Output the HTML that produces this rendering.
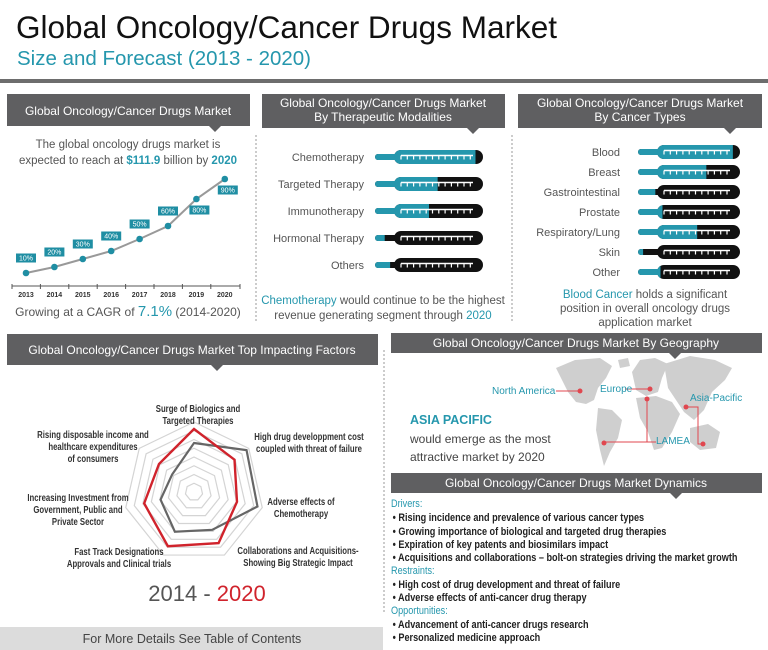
<!DOCTYPE html>
<html><head><meta charset="utf-8">
<style>
html,body{margin:0;padding:0;background:#fff;}
svg{display:block;font-family:"Liberation Sans",sans-serif;}
.hd{fill:#fff;font-size:12px;}
</style></head>
<body>
<svg id="root" width="768" height="650" viewBox="0 0 768 650" xmlns="http://www.w3.org/2000/svg">
<defs></defs>
<text x="16" y="38" font-size="31.5" fill="#111">Global Oncology/Cancer Drugs Market</text>
<text x="17" y="65" font-size="20.5" fill="#2597ad">Size and Forecast (2013 - 2020)</text>
<rect x="0" y="79" width="768" height="4" fill="#6d6d6d"/>

<g>
<rect x="7" y="94" width="243" height="32" fill="#5f5f61"/><path d="M209 126 L221 126 L215 132Z" fill="#5f5f61"/>
<text class="hd" x="128" y="115" text-anchor="middle">Global Oncology/Cancer Drugs Market</text></g>
<g>
<rect x="262" y="94" width="243" height="34" fill="#5f5f61"/><path d="M467 128 L479 128 L473 134Z" fill="#5f5f61"/>
<text class="hd" x="383" y="107" text-anchor="middle">Global Oncology/Cancer Drugs Market</text>
<text class="hd" x="383" y="121" text-anchor="middle">By Therapeutic Modalities</text></g>
<g>
<rect x="518" y="94" width="244" height="34" fill="#5f5f61"/><path d="M724 128 L736 128 L730 134Z" fill="#5f5f61"/>
<text class="hd" x="640" y="107" text-anchor="middle">Global Oncology/Cancer Drugs Market</text>
<text class="hd" x="640" y="121" text-anchor="middle">By Cancer Types</text></g>

<line x1="256" y1="135" x2="256" y2="322" stroke="#999" stroke-dasharray="2,2"/>
<line x1="512" y1="135" x2="512" y2="322" stroke="#999" stroke-dasharray="2,2"/>
<line x1="384" y1="350" x2="384" y2="612" stroke="#999" stroke-dasharray="2,2"/>

<text x="128" y="148" font-size="11.5" fill="#555" text-anchor="middle">The global oncology drugs market is</text>
<text x="128" y="164" font-size="11.5" fill="#555" text-anchor="middle">expected to reach at <tspan fill="#2597ad" font-weight="bold">$111.9</tspan> billion by <tspan fill="#2597ad" font-weight="bold">2020</tspan></text>
<g id="linechart"></g>
<text x="128" y="316" font-size="12" fill="#555" text-anchor="middle">Growing at a CAGR of <tspan fill="#2597ad" font-size="15">7.1%</tspan> (2014-2020)</text>

<g id="thermo1"></g>
<text x="383" y="304" font-size="11.5" fill="#555" text-anchor="middle"><tspan fill="#2597ad">Chemotherapy</tspan> would continue to be the highest</text>
<text x="383" y="319" font-size="11.5" fill="#555" text-anchor="middle">revenue generating segment through <tspan fill="#2597ad">2020</tspan></text>

<g id="thermo2"></g>
<text x="645" y="298" font-size="11.5" fill="#555" text-anchor="middle"><tspan fill="#2597ad">Blood Cancer</tspan> holds a significant</text>
<text x="645" y="312" font-size="11.5" fill="#555" text-anchor="middle">position in overall oncology drugs</text>
<text x="645" y="326" font-size="11.5" fill="#555" text-anchor="middle">application market</text>

<g>
<rect x="7" y="334" width="371" height="31" fill="#5f5f61"/><path d="M211 365 L223 365 L217 371Z" fill="#5f5f61"/>
<text class="hd" x="192" y="354" text-anchor="middle">Global Oncology/Cancer Drugs Market Top Impacting Factors</text></g>
<g id="radar"></g>
<text x="207" y="601" font-size="22" fill="#555" text-anchor="middle">2014 - <tspan fill="#d0232c">2020</tspan></text>
<g>
<rect x="0" y="627" width="383" height="23" fill="#dcdcdc"/>
<text x="192" y="643" font-size="12.5" fill="#444" text-anchor="middle">For More Details See Table of Contents</text></g>

<g>
<rect x="391" y="333" width="371" height="20" fill="#5f5f61"/><path d="M669 353 L681 353 L675 359Z" fill="#5f5f61"/>
<text class="hd" x="576" y="347" text-anchor="middle">Global Oncology/Cancer Drugs Market By Geography</text></g>
<g fill="#cfcfcf">
<path d="M556 368 L575 360 L600 358 L612 366 L606 378 L598 388 L594 400 L586 404 L576 402 L568 392 L562 380Z"/>
<path d="M598 408 L612 410 L622 420 L618 438 L610 452 L604 466 L600 450 L596 430Z"/>
<path d="M632 372 L640 360 L655 358 L668 364 L662 378 L658 392 L646 396 L636 390Z"/>
<path d="M636 398 L656 396 L672 402 L680 414 L672 432 L662 448 L654 450 L648 432 L640 418Z"/>
<path d="M664 364 L690 356 L715 360 L732 368 L725 380 L712 392 L704 410 L694 420 L684 412 L676 400 L668 388Z"/>
<path d="M690 428 L708 424 L720 432 L716 448 L700 450 L690 442Z"/>
<path d="M618 360 L628 358 L630 366 L620 368Z"/>
</g>
<g stroke="#e0474f" stroke-width="1" fill="none">
<path d="M556 391 L580 391"/><path d="M625 389 L650 389"/>
<path d="M647 399 L647 442 L604 442 M647 442 L656 442"/>
<path d="M686 407 L698 407 L698 444 L703 444"/>
</g>
<g fill="#e0474f">
<circle cx="580" cy="391" r="2.5"/><circle cx="650" cy="389" r="2.5"/><circle cx="647" cy="399" r="2.5"/>
<circle cx="686" cy="407" r="2.5"/><circle cx="604" cy="443" r="2.5"/><circle cx="703" cy="444" r="2.5"/>
</g>
<text x="492" y="394" font-size="10" fill="#2597ad">North America</text>
<text x="600" y="392" font-size="10" fill="#2597ad">Europe</text>
<text x="690" y="401" font-size="10" fill="#2597ad">Asia-Pacific</text>
<text x="656" y="444" font-size="10" fill="#2597ad">LAMEA</text>
<text x="410" y="424" font-size="12.5" font-weight="bold" fill="#2597ad">ASIA PACIFIC</text>
<text x="410" y="443" font-size="12" fill="#444">would emerge as the most</text>
<text x="410" y="461" font-size="12" fill="#444">attractive market by 2020</text>

<g>
<rect x="391" y="473" width="371" height="20" fill="#5f5f61"/><path d="M670 493 L682 493 L676 499Z" fill="#5f5f61"/>
<text class="hd" x="576" y="487" text-anchor="middle">Global Oncology/Cancer Drugs Market Dynamics</text></g>
<g font-size="11" fill="#222" font-weight="bold" transform="translate(391,0) scale(0.83,1) translate(-391,0)">
<text x="391" y="507" fill="#2597ad" font-weight="normal">Drivers:</text>
<text x="393" y="521">•  Rising incidence and prevalence of various cancer types</text>
<text x="393" y="535">•  Growing importance of biological and targeted drug therapies</text>
<text x="393" y="548">•  Expiration of key patents and biosimilars impact</text>
<text x="393" y="561">•  Acquisitions and collaborations – bolt-on strategies driving the market growth</text>
<text x="391" y="574" fill="#2597ad" font-weight="normal">Restraints:</text>
<text x="393" y="588">•  High cost of drug development and threat of failure</text>
<text x="393" y="601">•  Adverse effects of anti-cancer drug therapy</text>
<text x="391" y="614" fill="#2597ad" font-weight="normal">Opportunities:</text>
<text x="393" y="628">•  Advancement of anti-cancer drugs research</text>
<text x="393" y="641">•  Personalized medicine approach</text>
</g>
</svg>
<script>
const NS="http://www.w3.org/2000/svg";
// ---- line chart data ----
const years=["2013","2014","2015","2016","2017","2018","2019","2020"];
const marketValues=[10,16,24,32,44,57,84,104];
const growthLabels=["10%","20%","30%","40%","50%","60%","80%","90%"];
// ---- thermometer data ----
const modalities=["Chemotherapy","Targeted Therapy","Immunotherapy","Hormonal Therapy","Others"];
const modalityShares=[0.93,0.58,0.5,0.09,0.14];
const cancerTypes=["Blood","Breast","Gastrointestinal","Prostate","Respiratory/Lung","Skin","Other"];
const cancerShares=[0.93,0.67,0.17,0.24,0.58,0.05,0.22];
// ---- radar data ----
const factors=[["Surge of Biologics and","Targeted Therapies"],["High drug developpment cost","coupled with threat of failure"],["Adverse effects of","Chemotherapy"],["Collaborations and Acquisitions-","Showing Big Strategic Impact"],["Fast Track Designations","Approvals and Clinical trials"],["Increasing Investment from","Government, Public and","Private Sector"],["Rising disposable income and","healthcare expenditures","of consumers"]];
const impact2014=[7,9.6,9.3,6,6.3,4.9,4];
const impact2020=[9,7.4,6.3,8.1,8.6,7.3,6.4];

function mk(tag,attrs,parent){const e=document.createElementNS(NS,tag);for(const k in attrs)e.setAttribute(k,attrs[k]);parent.appendChild(e);return e;}

(function(){
  const g=document.getElementById('linechart');
  const x=i=>26+i*28.4, y=v=>283-v;
  mk('line',{x1:12,y1:286,x2:240,y2:286,stroke:'#555','stroke-width':1},g);
  const pts=marketValues.map((v,i)=>x(i)+','+y(v)).join(' ');
  const pl=mk('polyline',{points:pts,fill:'none',stroke:'#999','stroke-width':2},g);
  
  
  years.forEach((yr,i)=>{
    const c=mk('circle',{cx:x(i),cy:y(marketValues[i]),r:3.3,fill:'#1f8ea3'},g);
    
    
    mk('line',{x1:x(i)-14,y1:284,x2:x(i)-14,y2:289,stroke:'#555'},g);
    const t=mk('text',{x:x(i),y:297,'font-size':7,'font-weight':'bold',fill:'#333','text-anchor':'middle'},g);
    t.textContent=yr;
    
    
    const below=i>=6;
    const by=below?y(marketValues[i])+11:y(marketValues[i])-15;
    const bx=x(i)+(below?3:0);
    mk('rect',{x:bx-10,y:by-4.5,width:20,height:9,fill:'#1f8ea3'},g);
    const bt=mk('text',{x:bx,y:by+2.5,'font-size':7,fill:'#fff','text-anchor':'middle'},g);
    bt.textContent=growthLabels[i];
    
    
  });
  mk('line',{x1:240,y1:284,x2:240,y2:289,stroke:'#555'},g);
})();

let clipId=0;
function thermo(g,labels,shares,x0,len,y0,dy,labelX){
  const defs=document.querySelector('defs');
  labels.forEach((lab,i)=>{
    const cy=y0+i*dy;
    const t=mk('text',{x:labelX,y:cy+4,'font-size':11,fill:'#555','text-anchor':'end'},g);
    t.textContent=lab;
    
    
    const grp=mk('g',{},g);
    
    
    const shape=(fill,parent)=>{
      mk('rect',{x:x0,y:cy-3,width:24,height:6,rx:3,fill:fill},parent);
      mk('rect',{x:x0+19,y:cy-7,width:len-19,height:14,rx:7,fill:fill},parent);
    };
    shape('#111',grp);
    const id='cl'+(clipId++);
    const cp=mk('clipPath',{id:id},defs);
    mk('rect',{x:x0,y:cy-8,width:len*shares[i],height:16},cp);
    const tg=mk('g',{'clip-path':'url(#'+id+')'},grp);
    shape('#2597ad',tg);
    const sx=x0+26, ex=x0+len-10;
    mk('line',{x1:sx,y1:cy-1.5,x2:ex,y2:cy-1.5,stroke:'#fff','stroke-width':1.4},grp);
    for(let tx=sx;tx<=ex;tx+=6.3) mk('line',{x1:tx,y1:cy-1.5,x2:tx,y2:cy+2.5,stroke:'#fff','stroke-width':1.2},grp);
  });
}
thermo(document.getElementById('thermo1'),modalities,modalityShares,375,108,157,27,364);
thermo(document.getElementById('thermo2'),cancerTypes,cancerShares,638,102,152,20,620);

(function(){
  const g=document.getElementById('radar');
  const cx=194,cy=492,R=70,maxV=10,n=factors.length;
  const ang=i=>-Math.PI/2+i*2*Math.PI/n;
  const pt=(i,v)=>[cx+Math.cos(ang(i))*R*v/maxV,cy+Math.sin(ang(i))*R*v/maxV];
  for(let k=1;k<=8;k++){
    const pts=factors.map((f,i)=>pt(i,k*maxV/8).join(',')).join(' ');
    mk('polygon',{points:pts,fill:'none',stroke:'#d4d4d4','stroke-width':1.2},g);
  }
  const s14=mk('polygon',{points:impact2014.map((v,i)=>pt(i,v).join(',')).join(' '),fill:'none',stroke:'#666','stroke-width':2.2},g);
  
  
  const s20=mk('polygon',{points:impact2020.map((v,i)=>pt(i,v).join(',')).join(' '),fill:'none',stroke:'#d0232c','stroke-width':2.4},g);
  
  
  const lp=[[198,412],[309,440],[301,505],[298,554],[119,555],[78,501],[93,438]];
  factors.forEach((lines,i)=>{
    const lx=lp[i][0];
    const t=mk('text',{x:lx,y:lp[i][1],'font-size':10.5,'font-weight':'bold',fill:'#333','text-anchor':'middle',transform:'translate('+lx+',0) scale(0.74,1) translate('+(-lx)+',0)'},g);
    
    
    lines.forEach((ln,j)=>{const ts=mk('tspan',{x:lx,dy:j?12:0},t);ts.textContent=ln;});
  });
})();
</script>
</body></html>
